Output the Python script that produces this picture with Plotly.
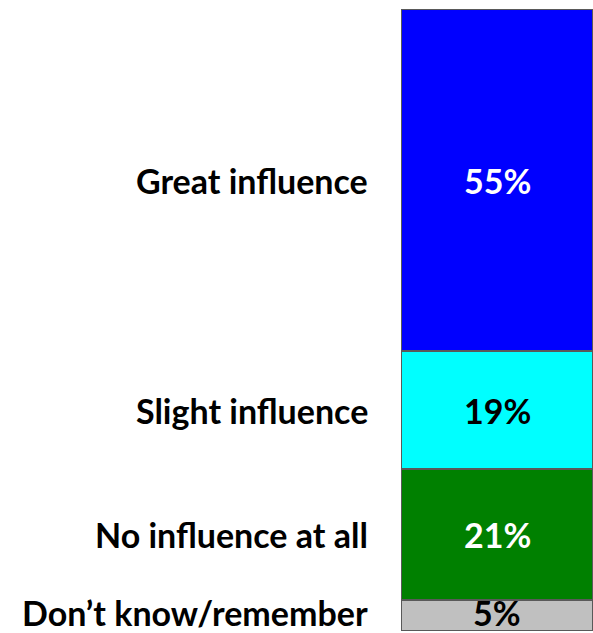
import plotly.graph_objects as go

categories = ["Don’t know/remember", "No influence at all", "Slight influence", "Great influence"]
values = [5, 21, 19, 55]
value_labels = ["5%", "21%", "19%", "55%"]
colors = ["#C0C0C0", "#008000", "#00FFFF", "#0000FF"]
text_colors = ["#000000", "#FFFFFF", "#000000", "#FFFFFF"]

FONT = "Lato"
FS = 34

fig = go.Figure()
for cat, v, col in zip(categories, values, colors):
    fig.add_trace(go.Bar(
        x=[0], y=[v], name=cat, width=1,
        marker=dict(color=col, line=dict(color="#595959", width=2)),
        hoverinfo="skip",
    ))

# category and value labels at segment centers
cum = 0
for i, (cat, v, lab, tc) in enumerate(zip(categories, values, value_labels, text_colors)):
    ys = 3 if i == 0 else 0
    fig.add_annotation(
        x=370 / 593, xref="paper", y=cum + v / 2, yref="y", yshift=ys,
        text="<b>" + cat + "</b>", showarrow=False, xanchor="right", yanchor="middle",
        font=dict(family=FONT, size=FS, color="#000000"),
    )
    fig.add_annotation(
        x=0, xref="x", y=cum + v / 2, yref="y", yshift=ys,
        text="<b>" + lab + "</b>", showarrow=False, xanchor="center", yanchor="middle",
        font=dict(family=FONT, size=FS, color=tc),
    )
    cum += v

fig.update_layout(
    width=593, height=633,
    barmode="stack",
    showlegend=False,
    paper_bgcolor="white", plot_bgcolor="white",
    margin=dict(l=0, r=0, t=9, b=2),
    xaxis=dict(domain=[401 / 593, 1], range=[-0.5, 0.5], visible=False),
    yaxis=dict(range=[0, 100], visible=False),
)

fig.write_html("out.html", config={"displayModeBar": False},
               post_script="document.body.style.margin='0';document.body.style.overflow='hidden';")
